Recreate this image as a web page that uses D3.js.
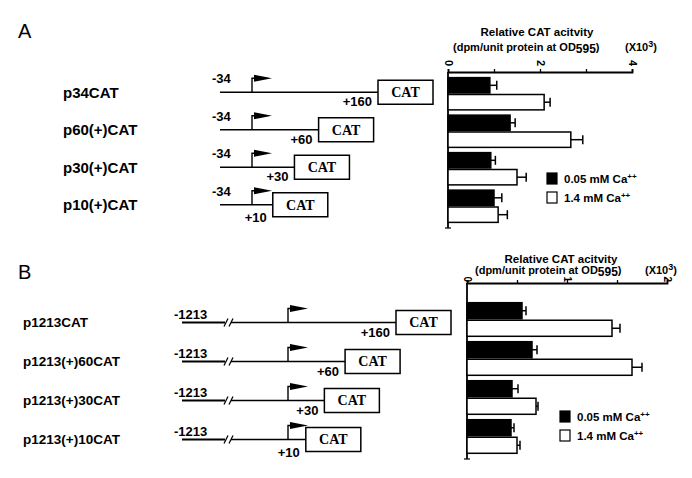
<!DOCTYPE html>
<html>
<head>
<meta charset="utf-8">
<script src="https://cdn.jsdelivr.net/npm/d3@7"></script>
<style>
  body { margin: 0; background: #fff; }
  svg text { font-family: "Liberation Sans", Arial, sans-serif; font-weight: bold; fill: #000; }
  .cat { font-family: "Liberation Serif", "Times New Roman", serif; }
</style>
</head>
<body>
<div id="chart"></div>
<script>
// ---- data: panel A
var constructsA = ["p34CAT", "p60(+)CAT", "p30(+)CAT", "p10(+)CAT"];
var endsA = [160, 60, 30, 10];
var lowCaA = [0.91, 1.35, 0.93, 1.0];
var lowCaErrA = [0.15, 0.11, 0.1, 0.17];
var highCaA = [2.09, 2.67, 1.5, 1.09];
var highCaErrA = [0.13, 0.26, 0.2, 0.2];
var ticksA = [0, 1, 2, 3, 4];

// ---- data: panel B
var constructsB = ["p1213CAT", "p1213(+)60CAT", "p1213(+)30CAT", "p1213(+)10CAT"];
var endsB = [160, 60, 30, 10];
var lowCaB = [0.55, 0.65, 0.45, 0.44];
var lowCaErrB = [0.04, 0.05, 0.06, 0.03];
var highCaB = [1.45, 1.65, 0.69, 0.5];
var highCaErrB = [0.08, 0.1, 0.02, 0.03];
var ticksB = [0, 0.5, 1, 1.5, 2];

var legendLabels = ["0.05 mM Ca", "1.4 mM Ca"];

var svg = d3.select("#chart").append("svg")
  .attr("width", 692).attr("height", 478);

//-------------------------
function drawPanel(p) {
  var g = svg.append("g");

  g.append("text").attr("x", 18).attr("y", p.letterY)
    .style("font-size", "20px").style("font-weight", "normal")
    .text(p.letter);

  var y = d3.scaleBand().domain(p.names).range(p.yRange)
    .paddingInner(0.1).paddingOuter(0.05);
  var sub = d3.scaleBand().domain(["low", "high"]).range([0, y.bandwidth()]);
  var x = d3.scaleLinear().domain(p.domain).range(p.xRange);
  var map = d3.scalePow().exponent(0.65).domain([0, 160]).range([p.tss, p.tss + p.mapLen]);

  var rows = p.names.map(function (n, i) {
    return { name: n, end: p.ends[i], lo: p.low[i], loE: p.lowErr[i], hi: p.high[i], hiE: p.highErr[i] };
  });

  //------------- constructs
  var row = g.selectAll("g.row").data(rows).enter().append("g").attr("class", "row")
    .attr("transform", function (d) { return "translate(0," + (y(d.name) + y.bandwidth() / 2 + p.lineShift) + ")"; });

  row.append("text").attr("x", p.labelX).attr("dy", "0.35em")
    .style("font-size", p.labelSize).text(function (d) { return d.name; });

  row.append("text").attr("x", p.startX - 8).attr("y", p.startLabelDy)
    .style("font-size", "13px").text(p.startLabel);

  if (p.brk) {
    row.append("line").attr("x1", p.startX).attr("x2", p.brk - 3)
      .attr("stroke", "#000").attr("stroke-width", 1.8);
    row.append("line").attr("x1", p.brk + 3).attr("x2", function (d) { return map(d.end); })
      .attr("stroke", "#000").attr("stroke-width", 1.5);
    [-2, 3].forEach(function (o) {
      row.append("line").attr("x1", p.brk + o - 2).attr("y1", 4)
        .attr("x2", p.brk + o + 2).attr("y2", -4)
        .attr("stroke", "#000").attr("stroke-width", 1.3);
    });
  } else {
    row.append("line").attr("x1", p.startX).attr("x2", function (d) { return map(d.end); })
      .attr("stroke", "#000").attr("stroke-width", 1.6);
  }

  // promoter arrow
  row.append("path")
    .attr("d", "M" + p.tss + ",0V-14H" + (p.tss + 3))
    .attr("fill", "none").attr("stroke", "#000").attr("stroke-width", 1.4);
  row.append("path")
    .attr("d", "M" + (p.tss + 2) + ",-17.5L" + (p.tss + 20) + ",-14L" + (p.tss + 2) + ",-10.5Z")
    .attr("fill", "#000");

  row.append("rect")
    .attr("x", function (d) { return map(d.end); }).attr("y", -12)
    .attr("width", 55).attr("height", 24)
    .attr("fill", "#fff").attr("stroke", "#000").attr("stroke-width", 1.5);
  row.append("text").attr("class", "cat")
    .attr("x", function (d) { return map(d.end) + 27.5; }).attr("dy", "0.35em")
    .attr("text-anchor", "middle").style("font-size", "14px").text("CAT");

  row.append("text")
    .attr("x", function (d) { return map(d.end) - 6; })
    .attr("y", function (d) { return d.end === 10 ? 17 : 14; })
    .attr("text-anchor", "end").style("font-size", "13px")
    .text(function (d) { return "+" + d.end; });

  //------------- bar chart
  var axis = g.append("g").attr("transform", "translate(0," + p.axisY + ")")
    .call(d3.axisTop(x).tickValues(p.ticks).tickSize(3)
      .tickFormat(function (v) { return v % p.labelEvery === 0 ? d3.format("d")(v) : ""; }));
  axis.select(".domain").attr("stroke-width", 1.8);
  axis.selectAll("line").attr("stroke-width", 1.3);
  axis.selectAll("text")
    .attr("transform", "rotate(90)").attr("x", p.tickOff).attr("y", 0).attr("dy", "0.35em")
    .attr("text-anchor", "end").style("font-size", p.tickSize)
    .style("font-family", "Liberation Sans, Arial, sans-serif").style("font-weight", "bold");

  var x0 = x(0), yEnd = p.yRange[1] + 3;
  g.append("line").attr("x1", x0).attr("x2", x0).attr("y1", p.axisY).attr("y2", yEnd)
    .attr("stroke", "#000").attr("stroke-width", 1.8);
  g.append("line").attr("x1", x0 - 3).attr("x2", x0 + 3).attr("y1", yEnd).attr("y2", yEnd)
    .attr("stroke", "#000").attr("stroke-width", 1.2);

  var bars = [];
  rows.forEach(function (d) {
    bars.push({ name: d.name, k: "low", v: d.lo, e: d.loE });
    bars.push({ name: d.name, k: "high", v: d.hi, e: d.hiE });
  });

  var bg = g.selectAll("g.bar").data(bars).enter().append("g").attr("class", "bar")
    .attr("transform", function (d) { return "translate(0," + (y(d.name) + sub(d.k)) + ")"; });
  bg.append("rect")
    .attr("x", x0).attr("y", 0.75)
    .attr("width", function (d) { return x(d.v) - x0; })
    .attr("height", sub.bandwidth() - 1.5)
    .attr("fill", function (d) { return d.k === "low" ? "#000" : "#fff"; })
    .attr("stroke", "#000").attr("stroke-width", 1.5);
  bg.append("line")
    .attr("x1", function (d) { return x(d.v); }).attr("x2", function (d) { return x(d.v + d.e); })
    .attr("y1", sub.bandwidth() / 2).attr("y2", sub.bandwidth() / 2)
    .attr("stroke", "#000").attr("stroke-width", 1.5);
  bg.append("line")
    .attr("x1", function (d) { return x(d.v + d.e); }).attr("x2", function (d) { return x(d.v + d.e); })
    .attr("y1", sub.bandwidth() / 2 - 4.5).attr("y2", sub.bandwidth() / 2 + 4.5)
    .attr("stroke", "#000").attr("stroke-width", 1.5);

  // header
  g.append("text").attr("x", p.headX).attr("y", p.headY).attr("text-anchor", "middle")
    .style("font-size", "11.5px").text("Relative CAT acitvity");
  var h2 = g.append("text").attr("x", p.head2X).attr("y", p.headY + p.headGap).style("font-size", "11px");
  h2.append("tspan").text("(dpm/unit protein at OD");
  h2.append("tspan").attr("dy", 2).style("font-size", "12px").text("595");
  h2.append("tspan").attr("dy", -2).text(")");
  var h3 = g.append("text").attr("x", p.unitX).attr("y", p.headY + p.headGap).style("font-size", "11px");
  h3.append("tspan").text("(X10");
  h3.append("tspan").attr("dy", -4).style("font-size", "9px").text("3");
  h3.append("tspan").attr("dy", 4).text(")");

  // legend
  var lg = g.selectAll("g.leg").data(legendLabels).enter().append("g").attr("class", "leg")
    .attr("transform", function (d, i) { return "translate(" + p.legX + "," + (p.legY + i * 19) + ")"; });
  lg.append("rect").attr("width", 10).attr("height", 11)
    .attr("fill", function (d, i) { return i === 0 ? "#000" : "#fff"; })
    .attr("stroke", "#000").attr("stroke-width", 1.2);
  var lt = lg.append("text").attr("x", 17).attr("y", 10).style("font-size", "11.5px");
  lt.append("tspan").text(function (d) { return d; });
  lt.append("tspan").attr("dy", -4).style("font-size", "8px").text("++");
}

drawPanel({
  letter: "A", letterY: 38,
  names: constructsA, ends: endsA, low: lowCaA, lowErr: lowCaErrA, high: highCaA, highErr: highCaErrA,
  ticks: ticksA, labelEvery: 2, domain: [0, 4], xRange: [448, 632], axisY: 72,
  tickOff: -6, tickSize: "11px",
  yRange: [75, 225], lineShift: -1.5, labelX: 63, labelSize: "15px",
  startX: 220, startLabel: "-34", startLabelDy: -9, tss: 252, mapLen: 126, brk: null,
  headX: 537, headY: 36, headGap: 15, head2X: 453, unitX: 625,
  legX: 547, legY: 173
});

drawPanel({
  letter: "B", letterY: 279,
  names: constructsB, ends: endsB, low: lowCaB, lowErr: lowCaErrB, high: highCaB, highErr: highCaErrB,
  ticks: ticksB, labelEvery: 1, domain: [0, 2], xRange: [467, 667], axisY: 283,
  tickOff: -1, tickSize: "10px",
  yRange: [300, 456], lineShift: 3, labelX: 23, labelSize: "13.5px",
  startX: 182, startLabel: "-1213", startLabelDy: -4, tss: 288, mapLen: 108, brk: 228,
  headX: 561, headY: 263, headGap: 11, head2X: 475, unitX: 645,
  legX: 560, legY: 411
});
</script>
</body>
</html>
